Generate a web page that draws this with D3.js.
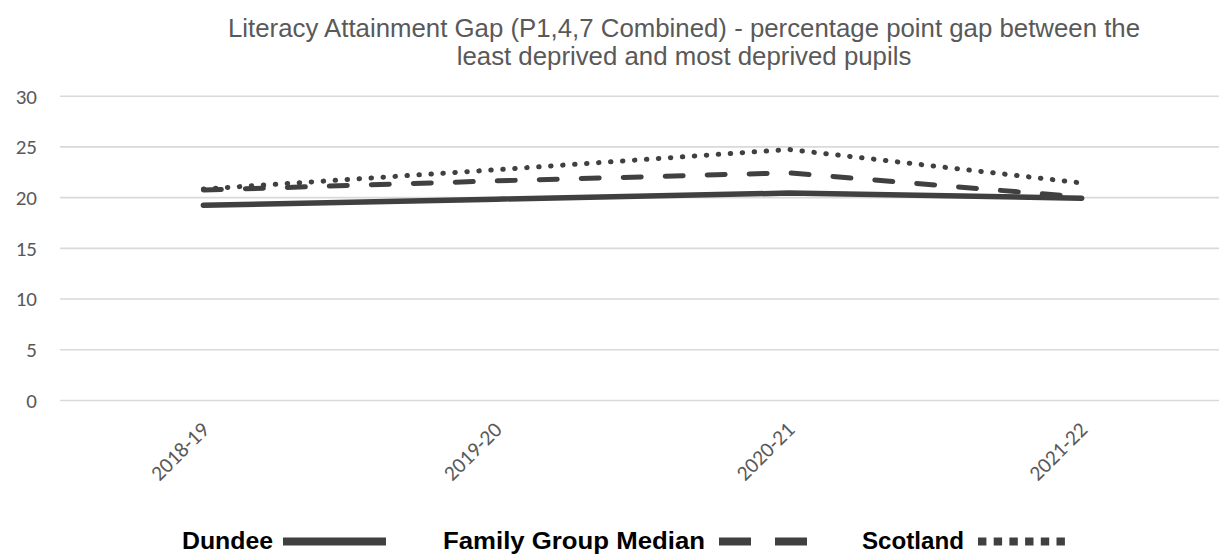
<!DOCTYPE html>
<html>
<head>
<meta charset="utf-8">
<script src="https://cdn.jsdelivr.net/npm/d3@7/dist/d3.min.js"></script>
<style>
  html, body { margin: 0; padding: 0; background: #ffffff; }
  svg { display: block; }
</style>
</head>
<body>
<script>
// ---- data ----
const categories = ["2018-19", "2019-20", "2020-21", "2021-22"];
const dundee = [19.2, 19.8, 20.4, 19.9];
const familyGroupMedian = [20.7, 21.6, 22.4, 20.0];
const scotland = [20.8, 22.7, 24.7, 21.4];
const yTicks = [0, 5, 10, 15, 20, 25, 30];
const titleLines = [
  "Literacy Attainment Gap (P1,4,7 Combined) - percentage point gap between the",
  "least deprived and most deprived pupils"
];
const seriesNames = ["Dundee", "Family Group Median", "Scotland"];

// ---- layout ----
const W = 1219, H = 554;
const svg = d3.select("body").append("svg").attr("width", W).attr("height", H);

const x = d3.scalePoint().domain(categories).range([57, 1228]).padding(0.5);
const y = d3.scaleLinear().domain([0, 30]).range([400, 95.7]);

const lineColor = "#404040";
const textColor = "#595959";

// title
svg.append("g").selectAll("text").data(titleLines).join("text")
  .attr("x", 684)
  .attr("y", (d, i) => 37 + i * 28)
  .attr("text-anchor", "middle")
  .attr("font-family", "'Liberation Sans', Arial, sans-serif")
  .attr("font-size", 25.8)
  .attr("fill", textColor)
  .text(d => d);

// gridlines + y labels
const yAxis = d3.axisLeft(y).tickValues(yTicks).tickSize(-(W - 60)).tickPadding(23);
const gy = svg.append("g").attr("transform", "translate(60,0)").call(yAxis);
gy.select(".domain").remove();
gy.selectAll(".tick line").attr("stroke", "#d9d9d9").attr("stroke-width", 1.6);
gy.selectAll(".tick text")
  .attr("font-family", "Carlito, 'Liberation Sans', Arial, sans-serif")
  .attr("font-size", 21)
  .attr("fill", textColor)
  .attr("dy", "0.35em");

// x labels
const xAxis = d3.axisBottom(x).tickSize(0).tickPadding(0);
const gx = svg.append("g").call(xAxis);
gx.select(".domain").remove();
gx.selectAll(".tick").attr("transform", null);
gx.selectAll(".tick text")
  .attr("transform", d => `translate(${x(d) + 7},431) rotate(-45)`)
  .attr("x", 0).attr("y", 0).attr("dy", 0)
  .attr("text-anchor", "end")
  .attr("font-family", "Carlito, 'Liberation Sans', Arial, sans-serif")
  .attr("font-size", 21.5)
  .attr("fill", textColor);

// lines
const series = [
  { name: seriesNames[0], values: dundee, dash: null, width: 5.5 },
  { name: seriesNames[1], values: familyGroupMedian, dash: "18,24", width: 5 },
  { name: seriesNames[2], values: scotland, dash: "0.5,11.5", width: 5 }
];
const line = d3.line().x((d, i) => x(categories[i])).y(d => y(d));

svg.append("g").selectAll("path").data(series.slice().reverse()).join("path")
  .attr("d", d => line(d.values))
  .attr("fill", "none")
  .attr("stroke", lineColor)
  .attr("stroke-width", d => d.width)
  .attr("stroke-linecap", "round")
  .attr("stroke-linejoin", "round")
  .attr("stroke-dasharray", d => d.dash);

// legend
const legendY = 549;
const legendItems = [
  { name: seriesNames[0], tx: 182, tw: 91, sx: 283, sw: 103, dash: null },
  { name: seriesNames[1], tx: 443, tw: 262, sx: 719, sw: 88, dash: "32,24" },
  { name: seriesNames[2], tx: 862, tw: 102, sx: 978, sw: 87, dash: "8.4,7.3" }
];
const lg = svg.append("g");
legendItems.forEach(it => {
  lg.append("text")
    .attr("x", it.tx).attr("y", legendY)
    .attr("font-family", "'Liberation Sans', Arial, sans-serif")
    .attr("font-weight", "bold")
    .attr("font-size", 24)
    .attr("textLength", it.tw)
    .attr("lengthAdjust", "spacingAndGlyphs")
    .attr("fill", "#000000")
    .text(it.name);
  lg.append("line")
    .attr("x1", it.sx).attr("x2", it.sx + it.sw)
    .attr("y1", legendY - 7.5).attr("y2", legendY - 7.5)
    .attr("stroke", lineColor)
    .attr("stroke-width", 8)
    .attr("stroke-dasharray", it.dash);
});
</script>
</body>
</html>
